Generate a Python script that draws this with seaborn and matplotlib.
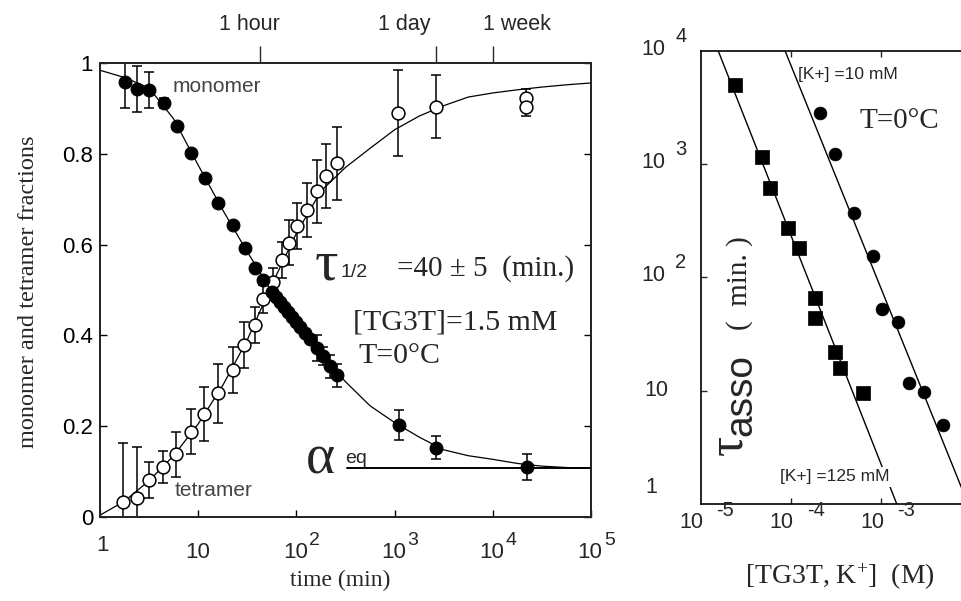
import numpy as np
import pandas as pd
import matplotlib
matplotlib.use("Agg")
import matplotlib.pyplot as plt
import matplotlib.transforms as mtrans
from matplotlib.ticker import NullLocator
import seaborn as sns

# ---------------- data (left panel: kinetics) ----------------
mono_t = [1.80, 2.36, 3.16, 4.47, 6.11, 8.36, 11.7, 16.0, 22.7, 29.9, 37.8, 45.9, 56.0,
          61.9, 67.9, 74.6, 82.0, 90.2, 98.9, 108.6, 122.2, 137.4, 161.8, 186.2, 219.8,
          258.8, 1117, 2642, 22180]
mono_y = [0.959, 0.943, 0.941, 0.912, 0.862, 0.801, 0.746, 0.691, 0.643, 0.592, 0.548,
          0.522, 0.496, 0.484, 0.473, 0.462, 0.451, 0.440, 0.429, 0.418, 0.405, 0.392,
          0.372, 0.354, 0.332, 0.312, 0.202, 0.153, 0.110]
mono_err = [0.058, 0.05, 0.04, 0.012, 0, 0, 0, 0, 0, 0, 0, 0, 0, 0, 0, 0, 0, 0, 0, 0,
            0, 0, 0.028, 0.02, 0.025, 0.025, 0.033, 0.025, 0.028]

tetra_t = [1.72, 2.36, 3.16, 4.34, 6.01, 8.36, 11.4, 16.0, 22.4, 29.2, 37.8, 45.9, 57.3,
           70.6, 84.5, 102.1, 127.1, 160.7, 200.0, 257.0, 1091, 2642, 21830, 21830]
tetra_y = [0.033, 0.041, 0.081, 0.110, 0.138, 0.188, 0.227, 0.273, 0.324, 0.379, 0.423,
           0.480, 0.518, 0.566, 0.604, 0.641, 0.676, 0.717, 0.751, 0.779, 0.890, 0.904,
           0.923, 0.904]
tetra_err = [0.13, 0.113, 0.04, 0.035, 0.05, 0.05, 0.06, 0.065, 0.05, 0.05, 0.04, 0.03,
             0.03, 0.04, 0.05, 0.05, 0.06, 0.07, 0.07, 0.08, 0.095, 0.07, 0.02, 0.02]

# fitted curves (time in min, fraction)
fit_t = [1.0, 1.78, 3.16, 5.62, 10.0, 17.8, 31.6, 56.2, 100, 178, 316, 562, 1000, 1778,
         3162, 5623, 10000, 17783, 31623, 56234, 100000]
mono_fit = [0.984, 0.968, 0.945, 0.877, 0.775, 0.676, 0.584, 0.497, 0.427, 0.360, 0.298,
            0.245, 0.208, 0.176, 0.148, 0.135, 0.127, 0.118, 0.112, 0.109, 0.107]
tetra_fit = [0.004, 0.035, 0.080, 0.135, 0.205, 0.290, 0.390, 0.512, 0.625, 0.718, 0.770,
             0.812, 0.853, 0.883, 0.906, 0.925, 0.934, 0.941, 0.947, 0.952, 0.956]

alpha_eq = 0.107
alpha_eq_t = [327, 100000]

top_ticks = [43, 2640, 10100]
top_labels = ["1 hour", "1 day", "1 week"]

# ---------------- data (right panel: tau_asso vs concentration) ----------------
k125_x = [2.41e-5, 4.76e-5, 5.89e-5, 9.40e-5, 1.236e-4, 1.858e-4, 1.858e-4, 3.10e-4,
          3.52e-4, 6.38e-4]
k125_y = [4977, 1161, 614, 270, 180, 65.6, 43.8, 22.0, 15.7, 9.46]
k10_x = [2.11e-4, 3.10e-4, 5.04e-4, 8.11e-4, 1.021e-3, 1.560e-3, 2.065e-3, 3.006e-3,
         4.92e-3]
k10_y = [2799, 1225, 367, 154, 52.2, 40.6, 11.6, 9.77, 4.97]
k125_fit_x = [1.57e-5, 1.50e-3]
k125_fit_y = [1.0e4, 1.0]
k10_fit_x = [8.65e-5, 1.0e-2]
k10_fit_y = [1.0e4, 0.86]

# ---------------- style ----------------
sns.set_style("ticks")
plt.rcParams["font.family"] = ["Liberation Sans", "DejaVu Sans"]
plt.rcParams["mathtext.fontset"] = "custom"
plt.rcParams["mathtext.rm"] = "Liberation Serif"
plt.rcParams["mathtext.it"] = "Liberation Serif:italic"
plt.rcParams["axes.linewidth"] = 1.2
SERIF = ["Liberation Serif", "DejaVu Serif"]

W, H = 961, 601
fig = plt.figure(figsize=(9.61, 6.01), dpi=100)


def fx(px):
    return px / W


def fy(py):
    return 1 - py / H


def off(dx, dy):
    return mtrans.ScaledTranslation(dx / 100.0, -dy / 100.0, fig.dpi_scale_trans)


# ================= left panel =================
axL = fig.add_axes([fx(100), fy(517), (591 - 100) / W, (517 - 63) / H])
axL.set_xscale("log")
axL.set_xlim(1, 1e5)
axL.set_ylim(0, 1)

sns.lineplot(x=fit_t, y=mono_fit, ax=axL, color="black", lw=0.9, sort=False,
             estimator=None, zorder=2)
sns.lineplot(x=fit_t, y=tetra_fit, ax=axL, color="black", lw=0.9, sort=False,
             estimator=None, zorder=2)
sns.lineplot(x=alpha_eq_t, y=[alpha_eq, alpha_eq], ax=axL, color="black", lw=1.4,
             sort=False, estimator=None, zorder=2)

axL.errorbar(mono_t, mono_y, yerr=mono_err, fmt="none", ecolor="black",
             elinewidth=1.1, capsize=3.5, capthick=1.1, zorder=3)
axL.errorbar(tetra_t, tetra_y, yerr=tetra_err, fmt="none", ecolor="black",
             elinewidth=1.1, capsize=3.5, capthick=1.1, zorder=3)
sns.scatterplot(x=tetra_t, y=tetra_y, ax=axL, marker="o", s=85, color="white",
                edgecolor="black", linewidth=1.1, zorder=4)
sns.scatterplot(x=mono_t, y=mono_y, ax=axL, marker="o", s=85, color="black",
                edgecolor="black", linewidth=0.8, zorder=5)

axL.set_xlabel("")
axL.set_ylabel("")
xt = [1, 10, 1e2, 1e3, 1e4, 1e5]
axL.set_xticks(xt)
axL.xaxis.set_minor_locator(NullLocator())
axL.set_yticks([0, 0.2, 0.4, 0.6, 0.8, 1.0])
axL.set_yticklabels(["0", "0.2", "0.4", "0.6", "0.8", "1"])
axL.tick_params(axis="both", which="major", direction="in", length=5, width=1,
                labelsize=16, top=False, right=True, pad=5, colors="black")
axL.tick_params(axis="x", labelbottom=False)
for s in axL.spines.values():
    s.set_color("black")

axT = axL.twiny()
axT.set_xscale("log")
axT.set_xlim(1, 1e5)
axT.set_xticks(top_ticks)
axT.set_xticklabels([])
axT.xaxis.set_minor_locator(NullLocator())
axT.tick_params(axis="x", direction="out", length=12, width=1)
# top labels sit beside (not centred on) their ticks in the original
for lab, cx in zip(top_labels, [249, 404, 517]):
    fig.text(fx(cx), fy(30), lab, ha="center", va="baseline", fontsize=15.5)

# bottom tick labels "10^n"
transL = mtrans.blended_transform_factory(axL.transData, fig.transFigure)
bases = ["1", "10", "10", "10", "10", "10"]
exps = ["", "", "2", "3", "4", "5"]
for v, b, e in zip(xt, bases, exps):
    by = 551 if b == "1" else 558
    axL.text(v, fy(by), b, transform=transL + off(2 if b == "1" else -1, 0),
             ha="center", va="baseline", fontsize=16, clip_on=False)
    if e:
        axL.text(v, fy(545), e, transform=transL + off(13, 0), ha="left",
                 va="baseline", fontsize=14, clip_on=False)

fig.text(fx(340), fy(580), "time (min)", ha="center", va="center", fontsize=17,
         family=SERIF)
fig.text(fx(29), fy(292), "monomer and tetramer fractions", ha="center",
         va="center", rotation=90, fontsize=17.5, family=SERIF)

fig.text(fx(173), fy(86), "monomer", ha="left", va="center", fontsize=15, color="#444444")
fig.text(fx(175), fy(490), "tetramer", ha="left", va="center", fontsize=15, color="#444444")
fig.text(fx(315), fy(279), "τ", ha="left", va="baseline", fontsize=42, family=SERIF)
fig.text(fx(341), fy(277), "1/2", ha="left", va="baseline", fontsize=14)
fig.text(fx(397), fy(276), "=40 ± 5  (min.)", ha="left", va="baseline", fontsize=21,
         family=SERIF)
fig.text(fx(353), fy(329), "[TG3T]=1.5 mM", ha="left", va="baseline", fontsize=21.5,
         family=SERIF)
fig.text(fx(358), fy(363), "T=0°C", ha="left", va="baseline", fontsize=21.5,
         family=SERIF)
fig.text(fx(306), fy(474), "α", ha="left", va="baseline", fontsize=40, family=SERIF)
fig.text(fx(345), fy(463), "eq", ha="left", va="baseline", fontsize=14)

# ================= right panel =================
axR = fig.add_axes([fx(700.5), fy(504), 270.6 / W, 453.3 / H])
axR.set_xscale("log")
axR.set_yscale("log")
axR.set_xlim(1e-5, 1e-2)
axR.set_ylim(1, 1e4)

sns.lineplot(x=k125_fit_x, y=k125_fit_y, ax=axR, color="black", lw=1.0, sort=False,
             estimator=None, zorder=2)
sns.lineplot(x=k10_fit_x, y=k10_fit_y, ax=axR, color="black", lw=1.0, sort=False,
             estimator=None, zorder=2)
sns.scatterplot(x=k125_x, y=k125_y, ax=axR, marker="s", s=100, color="black",
                edgecolor="black", linewidth=0.5, zorder=4)
sns.scatterplot(x=k10_x, y=k10_y, ax=axR, marker="o", s=85, color="black",
                edgecolor="black", linewidth=0.5, zorder=4)
axR.set_xlabel("")
axR.set_ylabel("")
axR.set_xticks([1e-4, 1e-3])
axR.set_yticks([10, 100, 1000])
axR.xaxis.set_minor_locator(NullLocator())
axR.yaxis.set_minor_locator(NullLocator())
axR.tick_params(axis="both", which="major", direction="in", length=4, width=1,
                top=True, right=False, labelbottom=False, labelleft=False)
for s in axR.spines.values():
    s.set_color("black")

transRx = mtrans.blended_transform_factory(axR.transData, fig.transFigure)
for v, e in zip([1e-5, 1e-4, 1e-3], ["-5", "-4", "-3"]):
    axR.text(v, fy(528), "10", transform=transRx + off(-9, 0), ha="center",
             va="baseline", fontsize=15.5, clip_on=False)
    axR.text(v, fy(516), e, transform=transRx + off(16, 0), ha="left",
             va="baseline", fontsize=14.5, clip_on=False)

transRy = mtrans.blended_transform_factory(fig.transFigure, axR.transData)
for v, b, e in zip([1, 10, 1e2, 1e3, 1e4], ["1", "10", "10", "10", "10"],
                   ["", "", "2", "3", "4"]):
    if b == "1":
        axR.text(fx(651), v, b, transform=transRy + off(0, -11), ha="center",
                 va="baseline", fontsize=15.5, clip_on=False)
    elif not e:
        axR.text(fx(656), v, b, transform=transRy + off(0, 5), ha="center",
                 va="baseline", fontsize=15.5, clip_on=False)
    else:
        axR.text(fx(653), v, b, transform=transRy + off(0, 4), ha="center",
                 va="baseline", fontsize=15.5, clip_on=False)
        axR.text(fx(675), v, e, transform=transRy + off(0, -9), ha="left",
                 va="baseline", fontsize=14.5, clip_on=False)

fig.text(fx(798), fy(75), "[K+] =10 mM", ha="left", va="center", fontsize=12.5)
fig.text(fx(780), fy(477), "[K+] =125 mM", ha="left", va="center", fontsize=12.5,
         bbox=dict(boxstyle="square,pad=0.15", fc="white", ec="none"))
fig.text(fx(860), fy(128), "T=0°C", ha="left", va="baseline", fontsize=21, family=SERIF)

fig.text(fx(740), fy(283), "(  min. )", ha="center", va="center", rotation=90,
         fontsize=21, family=SERIF)
fig.text(fx(741), fy(395), "asso", ha="center", va="center", rotation=90, fontsize=28)
fig.text(fx(729), fy(445), "τ", ha="center", va="center", rotation=90, fontsize=36,
         family=SERIF)

fig.text(fx(840), fy(577), r"[TG3T, K$^{+}$]  (M)", ha="center", va="center",
         fontsize=20, family=SERIF)

fig.savefig("out.png", dpi=100)
